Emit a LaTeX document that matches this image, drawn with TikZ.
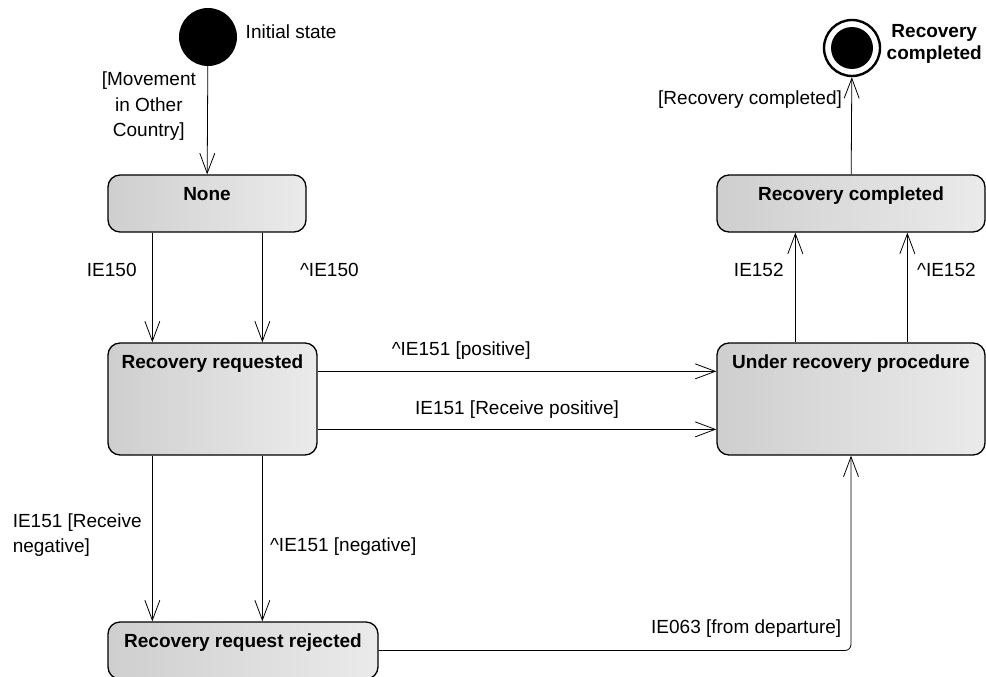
\documentclass[tikz,border=0pt]{standalone}
\usepackage{fontspec}
\setmainfont{Liberation Sans}
\usetikzlibrary{arrows.meta,positioning}
\tikzset{
  txt/.style={font=\fontsize{19}{25.5}\selectfont},
  statebox/.style={draw, line width=1.3pt, rounded corners=12pt,
    left color=gray!38, right color=gray!16, inner sep=0pt},
  boxtitle/.style={font=\fontsize{19}{25}\selectfont\bfseries, anchor=north,
    inner sep=0pt, yshift=-12.5pt},
  trans/.style={line width=0.8pt,
    -{Straight Barb[length=20pt,width=15pt,line width=0.8pt]}}
}
\begin{document}
\begin{tikzpicture}[x=1pt, y=-1pt, every node/.append style={txt}]
  \useasboundingbox (0,0) rectangle (986,677);
  % pseudo states
  \node [circle, fill, minimum size=58pt, inner sep=0pt] (init) at (208,37) {};
  \node [right=5pt, yshift=5pt] (initlbl) at (init.east) {Initial state};
  \node [circle, draw, line width=2.4pt, fill=white, minimum size=56pt,
    inner sep=0pt] (final) at (852,48) {};
  \node [circle, fill, minimum size=42pt, inner sep=0pt] (finaldot) at (final) {};
  \node [right=2pt, yshift=4pt, align=center,
    font=\fontsize{19}{22}\selectfont\bfseries] (finallbl) at (final.east)
    {Recovery\\completed};
  % states
  \node [statebox, minimum width=198pt, minimum height=57pt,
    label={[boxtitle]north:None}] (none) at (207,203.5) {};
  \node [statebox, minimum width=209pt, minimum height=112pt,
    label={[boxtitle]north:Recovery requested}] (req) at (212.5,399) {};
  \node [statebox, minimum width=270pt, minimum height=57pt,
    label={[boxtitle]north:Recovery request rejected}] (rej) at (243,650.5) {};
  \node [statebox, minimum width=268pt, minimum height=112pt,
    label={[boxtitle]north:Under recovery procedure}] (under) at (851,399) {};
  \node [statebox, minimum width=268pt, minimum height=57pt,
    label={[boxtitle]north:Recovery completed}] (done) at (851,203.5) {};
  % transitions
  \draw [trans] (init) -- node [left=8pt, pos=0.37, align=center] (lmove)
    {[Movement\\in Other\\Country]} (none);
  \draw [trans] ([xshift=45pt]none.south west) -- node [left=12pt, pos=0.34]
    (lrecv150) {IE150} ([xshift=45pt]req.north west);
  \draw [trans] ([xshift=155pt]none.south west) -- node [right=34pt, pos=0.34]
    (lsend150) {\textasciicircum IE150} ([xshift=155pt]req.north west);
  \draw [trans] ([xshift=45pt]req.south west) -- node [left=7pt, pos=0.48,
    align=left] (lrecvneg) {IE151 [Receive\\negative]} ([xshift=45pt]rej.north west);
  \draw [trans] ([xshift=155pt]req.south west) -- node [right=4pt, pos=0.55]
    (lsendneg) {\textasciicircum IE151 [negative]} ([xshift=155pt]rej.north west);
  \draw [trans] ([yshift=-29pt]req.north east) -- node [above=8pt, pos=0.36]
    (lsendpos) {\textasciicircum IE151 [positive]} ([yshift=-29pt]under.north west);
  \draw [trans] ([yshift=-87pt]req.north east) -- node [above=7pt, pos=0.5]
    (lrecvpos) {IE151 [Receive positive]} ([yshift=-87pt]under.north west);
  \draw [trans, rounded corners=6pt] (rej.east) -| node [pos=0.5,
    anchor=south east, xshift=-6pt, yshift=9pt] (ldep) {IE063 [from departure]}
    (under.south);
  \draw [trans] ([xshift=79pt]under.north west) -- node [left=8pt, pos=0.66]
    (lrecv152) {IE152} ([xshift=79pt]done.south west);
  \draw [trans] ([xshift=191pt]under.north west) -- node [right=6pt, pos=0.66]
    (lsend152) {\textasciicircum IE152} ([xshift=191pt]done.south west);
  \draw [trans] (done) -- node [left=6pt, pos=0.77] (ldone)
    {[Recovery completed]} (final);
\end{tikzpicture}
\end{document}
